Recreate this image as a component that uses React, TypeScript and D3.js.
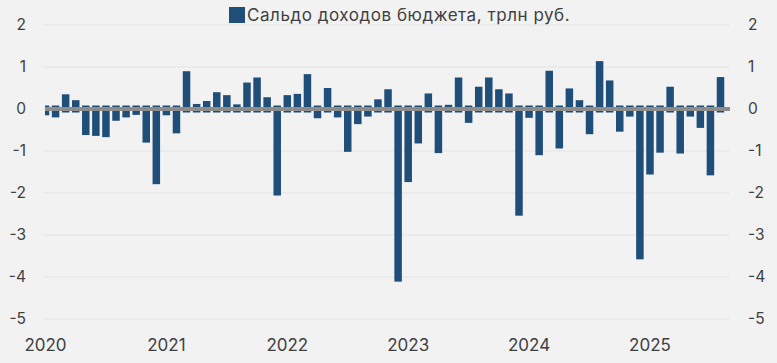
import React from 'react';
import * as d3 from 'd3';

// monthly values, Jan 2020 .. Aug 2025, trln rub
const years = ['2020', '2021', '2022', '2023', '2024', '2025'];
const values2020 = [-0.15, -0.2, 0.35, 0.21, -0.62, -0.64, -0.67, -0.28, -0.2, -0.14, -0.8, -1.79];
const values2021 = [-0.15, -0.58, 0.9, 0.12, 0.19, 0.4, 0.33, 0.11, 0.63, 0.75, 0.28, -2.06];
const values2022 = [0.33, 0.36, 0.83, -0.22, 0.5, -0.2, -1.02, -0.36, -0.18, 0.23, 0.47, -4.11];
const values2023 = [-1.74, -0.82, 0.37, -1.05, 0.1, 0.75, -0.33, 0.53, 0.75, 0.47, 0.37, -2.54];
const values2024 = [-0.21, -1.1, 0.91, -0.94, 0.49, 0.21, -0.6, 1.14, 0.68, -0.54, -0.18, -3.58];
const values2025 = [-1.56, -1.04, 0.53, -1.06, -0.18, -0.45, -1.58, 0.76];
const yTicks = [2, 1, 0, -1, -2, -3, -4, -5];
const legendLabel = 'Сальдо доходов бюджета, трлн руб.';

const values = [...values2020, ...values2021, ...values2022, ...values2023, ...values2024, ...values2025];

export default function App() {
  const width = 777, height = 363;
  const left = 45, right = 730;
  const font = 'Inter, "Open Sans", sans-serif';

  let x = d3.scaleLinear().domain([0, values.length - 1]).range([45.5, 720.5]);
  let y = d3.scaleLinear().domain([-5, 2]).range([319, 25]);
  const barW = 7.5;
  const y0 = y(0);

  return (
    <svg width={width} height={height} style={{ position: 'absolute', left: 0, top: 0 }} fontFamily={font}>
      <defs>
        <clipPath id="plot">
          <rect x={left} y={0} width={right - left} height={height} />
        </clipPath>
      </defs>
      <rect width={width} height={height} fill="#f2f2f2" />

      {yTicks.map(t => (
        <g key={t}>
          <line x1={43} x2={right} y1={y(t)} y2={y(t)} stroke="#e3e3e3" strokeWidth={1} />
          <text x={26} y={y(t)} dy="0.35em" textAnchor="end" fontSize={15.5} fill="#404040">{t}</text>
          <text x={748} y={y(t)} dy="0.35em" textAnchor="start" fontSize={15.5} fill="#404040">{t}</text>
        </g>
      ))}

      <g clipPath="url(#plot)">
        {values.map((v, i) => {
          const top = Math.min(y(v), y0 - 3.5);
          const bottom = Math.max(y(v), y0 + 3.5);
          return <rect key={i} x={x(i) - barW / 2} y={top} width={barW} height={bottom - top} fill="#1f4e79" />;
        })}
        <line x1={left} x2={right} y1={y0} y2={y0} stroke="#8c8c8c" strokeWidth={4} />
      </g>

      {years.map((yr, k) => (
        <text key={yr} x={x(k * 12)} y={345} dy="0.35em" textAnchor="middle" fontSize={17} fill="#404040">{yr}</text>
      ))}

      <g>
        <rect x={229} y={7} width={16} height={16} fill="#1f4e79" />
        <text x={247} y={15} dy="0.35em" fontSize={17} letterSpacing={0.55} fill="#404040">{legendLabel}</text>
      </g>
    </svg>
  );
}
